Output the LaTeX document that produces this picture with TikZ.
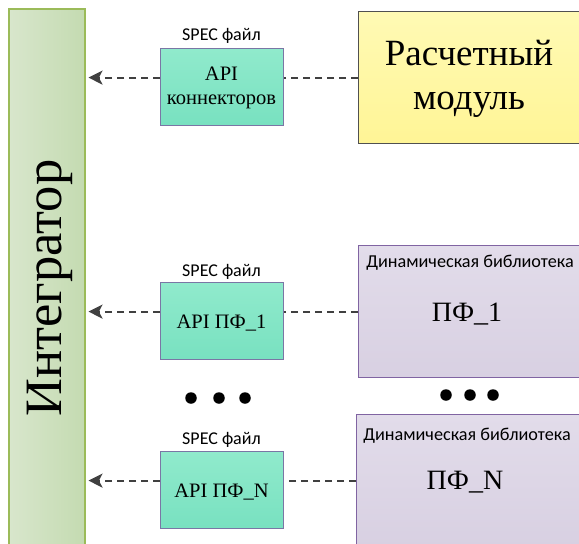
\documentclass[tikz,border=0pt]{standalone}
\usepackage{fontspec}
\setmainfont{Liberation Serif}
\newfontfamily\calfont{Carlito}
\usetikzlibrary{arrows.meta}
\definecolor{linegray}{HTML}{404040}
\definecolor{integline}{RGB}{155,187,89}
\definecolor{integleft}{RGB}{216,230,204}
\definecolor{integright}{RGB}{196,219,177}
\definecolor{apiline}{RGB}{122,118,165}
\definecolor{apitop}{RGB}{144,234,204}
\definecolor{apibot}{RGB}{120,225,192}
\definecolor{calcline}{RGB}{80,80,80}
\definecolor{calctop}{RGB}{255,250,180}
\definecolor{calcbot}{RGB}{255,245,150}
\definecolor{libline}{RGB}{128,100,162}
\definecolor{libtop}{RGB}{226,220,234}
\definecolor{libbot}{RGB}{216,208,226}
\tikzset{
  x=1pt, y=-1pt,
  integbar/.style={rectangle, draw=integline, line width=1.5pt, left color=integleft, right color=integright, minimum width=76, minimum height=552, anchor=north west, inner sep=0},
  apibox/.style={rectangle, draw=apiline, line width=1.2pt, top color=apitop, bottom color=apibot, minimum width=123, minimum height=77, anchor=north west, inner sep=0},
  calcbox/.style={rectangle, draw=calcline, line width=1.2pt, top color=calctop, bottom color=calcbot, minimum width=222, minimum height=132, anchor=north west, inner sep=0},
  libbox/.style={rectangle, draw=libline, line width=1.2pt, top color=libtop, bottom color=libbot, minimum width=224, minimum height=132, anchor=north west, inner sep=0},
  spec/.style={font=\calfont\fontsize{18}{20}\selectfont, inner sep=0},
  libtitle/.style={font=\calfont\fontsize{18.2}{20}\selectfont, inner sep=0},
  apitext/.style={font=\fontsize{20.5}{24}\selectfont, align=center, inner sep=0},
  pftext/.style={font=\fontsize{28}{32}\selectfont, inner sep=0},
  dotmark/.style={circle, fill=black, minimum size=11.5, inner sep=0},
  conn/.style={draw=linegray, line width=1.9pt, dash pattern=on 7pt off 5pt},
  arr/.style={conn, -{Stealth[length=14pt, width=14pt, inset=3.5pt]}, shorten >=3pt},
}
\begin{document}
\begin{tikzpicture}
\useasboundingbox (0,0) rectangle (579,544);
\clip (0,0) rectangle (579,544);
% integrator
\node[integbar] (integ) at (8,8) {};
\node[rotate=90, font=\fontsize{52.5}{56}\selectfont, inner sep=0] (integtxt) at (50,288) {Интегратор};
% calc module
\node[calcbox] (calc) at (358,11) {};
\node[font=\fontsize{37}{44}\selectfont, align=center, inner sep=0] (calctxt) at (469,79) {Расчетный\\модуль};
% lib 1
\node[libbox] (lib1) at (358,245) {};
\node[libtitle] (lib1ttl) at (470,263) {Динамическая библиотека};
\node[pftext] (lib1txt) at (467,314) {ПФ\_1};
% lib N
\node[libbox] (libN) at (356,414) {};
\node[libtitle] (libNttl) at (467,436) {Динамическая библиотека};
\node[pftext] (libNtxt) at (465,482) {ПФ\_N};
% api boxes
\node[apibox] (api0) at (160,48) {};
\node[apitext] (api0txt) at (221.5,88) {API\\коннекторов};
\node[spec] (spec0) at (221.5,36) {SPEC файл};
\node[apibox] (api1) at (160,282) {};
\node[apitext] (api1txt) at (221.5,323) {API ПФ\_1};
\node[spec] (spec1) at (221.5,272) {SPEC файл};
\node[apibox] (apiN) at (160,451) {};
\node[apitext] (apiNtxt) at (221.5,492) {API ПФ\_N};
\node[spec] (specN) at (221.5,440) {SPEC файл};
% dots
\node[dotmark] (dl1) at (191,398) {};
\node[dotmark] (dl2) at (219,398) {};
\node[dotmark] (dl3) at (245,398) {};
\node[dotmark] (dr1) at (446,395) {};
\node[dotmark] (dr2) at (470,395) {};
\node[dotmark] (dr3) at (493,395) {};
% connectors
\draw[conn] (calc.west) -- (calc.west -| api0.east);
\draw[arr] (calc.west -| api0.west) -- (calc.west -| integ.east);
\draw[conn] (lib1.west) -- (lib1.west -| api1.east);
\draw[arr] (lib1.west -| api1.west) -- (lib1.west -| integ.east);
\draw[conn] (libN.west) -- (libN.west -| apiN.east);
\draw[arr] (libN.west -| apiN.west) -- (libN.west -| integ.east);
\end{tikzpicture}
\end{document}
